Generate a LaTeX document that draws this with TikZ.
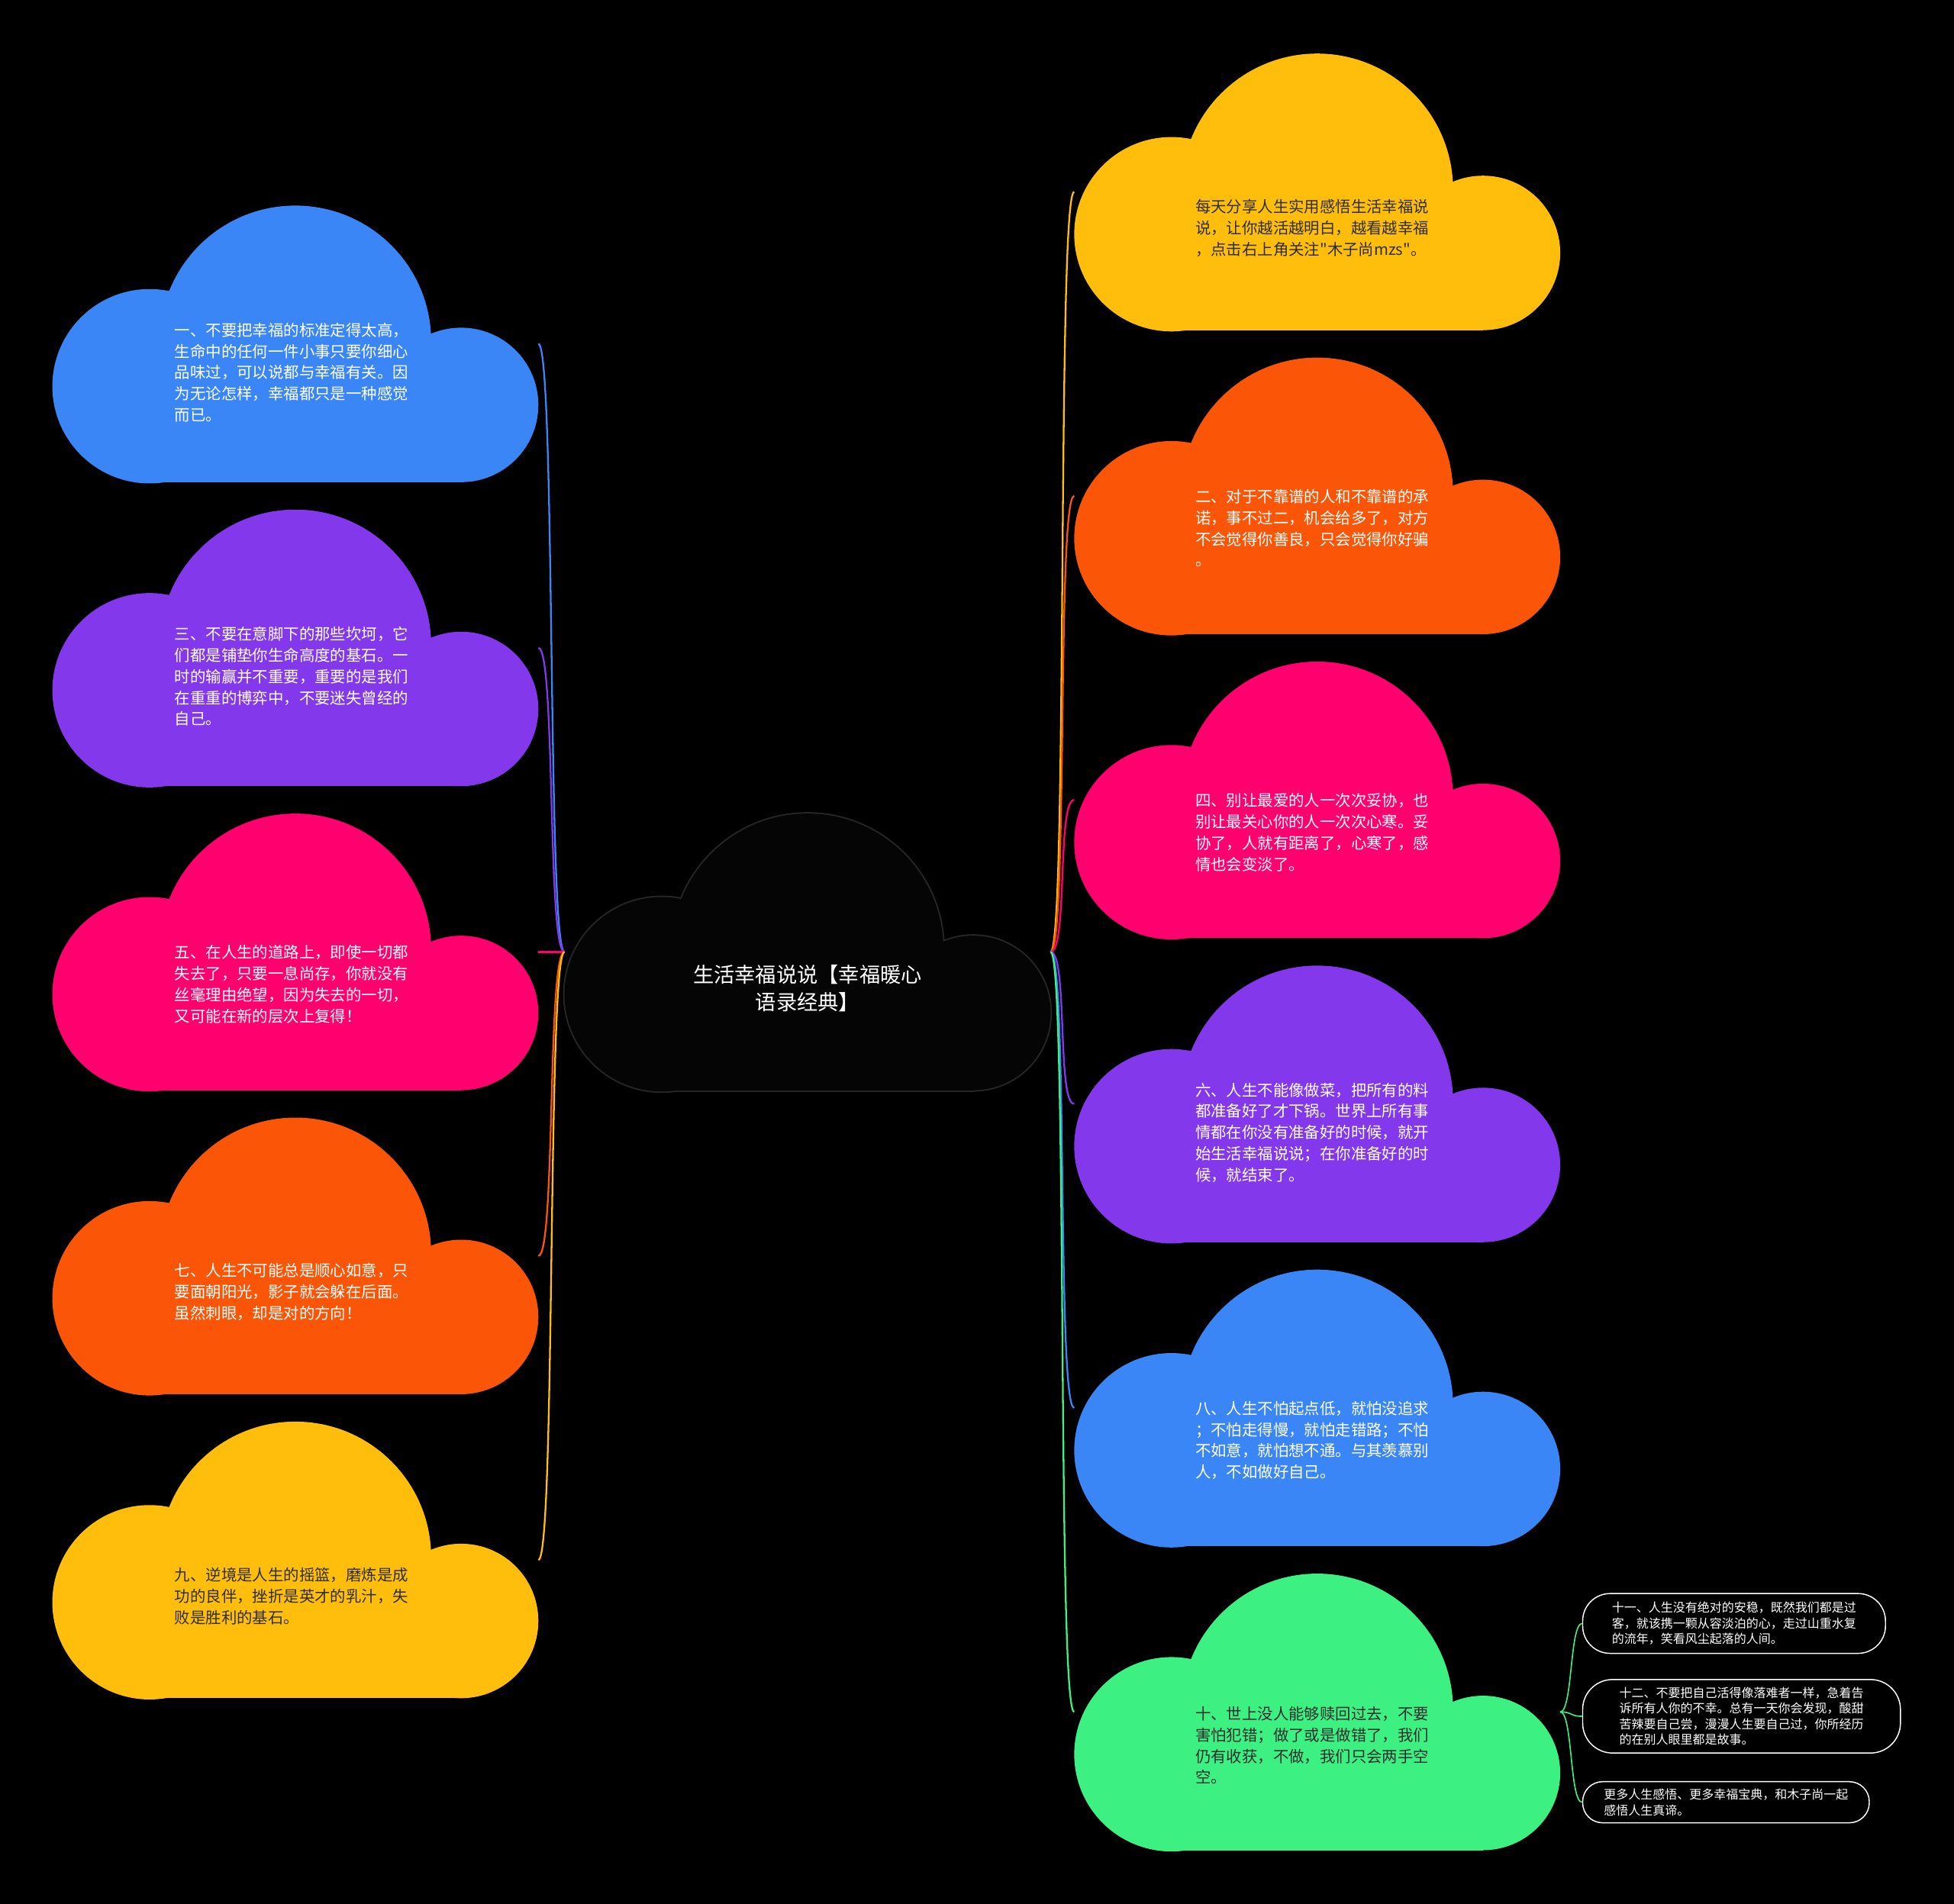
\documentclass[tikz,border=0pt]{standalone}
\usepackage{fontspec}
\newfontfamily\cjk{Noto Sans CJK SC}
\usetikzlibrary{positioning, calc}
\definecolor{cblue}{HTML}{3B86F7}
\definecolor{cpurple}{HTML}{8338EC}
\definecolor{cpink}{HTML}{FF006E}
\definecolor{corange}{HTML}{FB5607}
\definecolor{cyellow}{HTML}{FFBE0B}
\definecolor{cgreen}{HTML}{3CF081}
\definecolor{inkdark}{HTML}{2E2E2E}
\definecolor{hubfill}{HTML}{050505}
\definecolor{hubline}{HTML}{262626}

% cloud outline inside a 390x222 frame node
\newcommand{\cloudfill}[2]{%
  \fill[#2] ($(#1.north west)+(195,-109)$) circle[radius=109];
  \fill[#2] ($(#1.north west)+(78,-145)$) circle[radius=78];
  \fill[#2] ($(#1.north west)+(328,-160)$) circle[radius=62];
  \fill[#2] ($(#1.north west)+(78,-109)$) rectangle ($(#1.north west)+(328,-222)$);}

\begin{document}
\begin{tikzpicture}[x=1pt, y=1pt,
    cloudbox/.style={minimum width=390pt, minimum height=222pt, inner sep=0pt, outer sep=0pt},
    say/.style={font=\cjk\fontsize{12.5}{17}\selectfont, align=left, inner sep=0pt, anchor=west},
    light/.style={say, text=white},
    dark/.style={say, text=inkdark},
    headline/.style={font=\cjk\fontsize{16.7}{22}\selectfont, align=center, text=white, inner sep=0pt},
    leaf/.style={draw=white, line width=0.9pt, fill=black, rounded corners=16pt, inner sep=0pt,
      font=\cjk\fontsize{9.8}{12.6}\selectfont, align=left, text=white},
    link/.style={line width=1.4pt}]

  % background
  \fill[black] (0,0) rectangle (1568,-1528);

  % cloud frames
  \node[cloudbox, anchor=north west] (hub) at (453,-653) {};
  \node[cloudbox, anchor=north west] (s1) at (42,-165) {};
  \node[cloudbox, below=22pt of s1] (s3) {};
  \node[cloudbox, below=22pt of s3] (s5) {};
  \node[cloudbox, below=22pt of s5] (s7) {};
  \node[cloudbox, below=22pt of s7] (s9) {};
  \node[cloudbox, anchor=north west] (intro) at (862,-43) {};
  \node[cloudbox, below=22pt of intro] (s2) {};
  \node[cloudbox, below=22pt of s2] (s4) {};
  \node[cloudbox, below=22pt of s4] (s6) {};
  \node[cloudbox, below=22pt of s6] (s8) {};
  \node[cloudbox, below=22pt of s8] (s10) {};

  % branches
  \foreach \n/\c in {s1/cblue, s3/cpurple, s5/cpink, s7/corange, s9/cyellow}
    \draw[link, \c] (hub.west) .. controls +(-14,0) and +(14,0) .. (\n.east);
  \foreach \n/\c in {intro/cyellow, s2/corange, s4/cpink, s6/cpurple, s8/cblue, s10/cgreen}
    \draw[link, \c] (hub.east) .. controls +(14,0) and +(-14,0) .. (\n.west);

  % clouds
  \cloudfill{hub}{fill=hubline, draw=hubline, line width=2.4pt}
  \cloudfill{hub}{hubfill}
  \foreach \n/\c in {s1/cblue, s3/cpurple, s5/cpink, s7/corange, s9/cyellow,
      intro/cyellow, s2/corange, s4/cpink, s6/cpurple, s8/cblue, s10/cgreen}
    {\cloudfill{\n}{\c}}

  \node[headline] (title) at ($(hub.center)+(0,-29)$) {生活幸福说说【幸福暖心\\语录经典】};

  % left texts
  \node[light] (t1) at ($(s1.north west)+(98,-134)$)
    {一、不要把幸福的标准定得太高，\\生命中的任何一件小事只要你细心\\品味过，可以说都与幸福有关。因\\为无论怎样，幸福都只是一种感觉\\而已。};
  \node[light] (t3) at ($(s3.north west)+(98,-134)$)
    {三、不要在意脚下的那些坎坷，它\\们都是铺垫你生命高度的基石。一\\时的输赢并不重要，重要的是我们\\在重重的博弈中，不要迷失曾经的\\自己。};
  \node[light] (t5) at ($(s5.north west)+(98,-137)$)
    {五、在人生的道路上，即使一切都\\失去了，只要一息尚存，你就没有\\丝毫理由绝望，因为失去的一切，\\又可能在新的层次上复得！};
  \node[light] (t7) at ($(s7.north west)+(98,-140)$)
    {七、人生不可能总是顺心如意，只\\要面朝阳光，影子就会躲在后面。\\虽然刺眼，却是对的方向！};
  \node[dark] (t9) at ($(s9.north west)+(98,-140)$)
    {九、逆境是人生的摇篮，磨炼是成\\功的良伴，挫折是英才的乳汁，失\\败是胜利的基石。};

  % right texts
  \node[dark] (t0) at ($(intro.north west)+(97,-140)$)
    {每天分享人生实用感悟生活幸福说\\说，让你越活越明白，越看越幸福\\，点击右上角关注"木子尚mzs"。};
  \node[light] (t2) at ($(s2.north west)+(97,-137)$)
    {二、对于不靠谱的人和不靠谱的承\\诺，事不过二，机会给多了，对方\\不会觉得你善良，只会觉得你好骗\\。};
  \node[light] (t4) at ($(s4.north west)+(97,-137)$)
    {四、别让最爱的人一次次妥协，也\\别让最关心你的人一次次心寒。妥\\协了，人就有距离了，心寒了，感\\情也会变淡了。};
  \node[light] (t6) at ($(s6.north west)+(97,-134)$)
    {六、人生不能像做菜，把所有的料\\都准备好了才下锅。世界上所有事\\情都在你没有准备好的时候，就开\\始生活幸福说说；在你准备好的时\\候，就结束了。};
  \node[light] (t8) at ($(s8.north west)+(97,-137)$)
    {八、人生不怕起点低，就怕没追求\\；不怕走得慢，就怕走错路；不怕\\不如意，就怕想不通。与其羡慕别\\人，不如做好自己。};
  \node[dark] (t10) at ($(s10.north west)+(97,-138)$)
    {十、世上没人能够赎回过去，不要\\害怕犯错；做了或是做错了，我们\\仍有收获，不做，我们只会两手空\\空。};

  % leaves of item ten
  \node[leaf, rounded corners=22pt, minimum width=243pt, minimum height=48pt] (s11) at (1391.5,-1303)
    {十一、人生没有绝对的安稳，既然我们都是过\\客，就该携一颗从容淡泊的心，走过山重水复\\的流年，笑看风尘起落的人间。};
  \node[leaf, rounded corners=24pt, minimum width=255pt, minimum height=59pt] (s12) at (1397.5,-1377.5)
    {十二、不要把自己活得像落难者一样，急着告\\诉所有人你的不幸。总有一天你会发现，酸甜\\苦辣要自己尝，漫漫人生要自己过，你所经历\\的在别人眼里都是故事。};
  \node[leaf, minimum width=230pt, minimum height=33pt] (more) at (1385,-1446.5)
    {更多人生感悟、更多幸福宝典，和木子尚一起\\感悟人生真谛。};
  \foreach \n in {s11, s12, more}
    \draw[cgreen, line width=1pt] (s10.east) .. controls +(10,0) and +(-10,0) .. (\n.west);
\end{tikzpicture}
\end{document}
